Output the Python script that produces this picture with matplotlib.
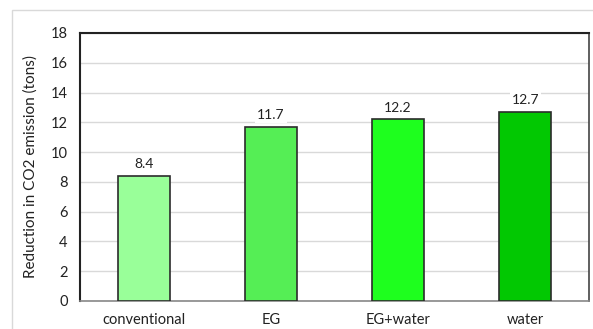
import matplotlib
matplotlib.use("Agg")
import matplotlib.pyplot as plt
from matplotlib.patches import Rectangle

categories = ["conventional", "EG", "EG+water", "water"]
values = [8.4, 11.7, 12.2, 12.7]
colors = ["#99FF99", "#55EE55", "#1EFF1E", "#02C802"]
yticks = [0, 2, 4, 6, 8, 10, 12, 14, 16, 18]

plt.rcParams["font.family"] = ["Lato", "DejaVu Sans"]

fig = plt.figure(figsize=(5.93, 3.29), dpi=100)
fig.patches.append(Rectangle((12 / 593, -0.1), 1.2, 1.0 - 9.5 / 329 + 0.1,
                             transform=fig.transFigure, fill=False,
                             edgecolor="#D9D9D9", linewidth=1.0))

ax = fig.add_axes([80 / 593, 1 - 301 / 329, 509 / 593, 268 / 329])
x = range(len(categories))
bars = ax.bar(x, values, width=0.41, color=colors, edgecolor="#2b2b2b",
              linewidth=1.2, zorder=3)

for b, v in zip(bars, values):
    ax.annotate(f"{v}", (b.get_x() + b.get_width() / 2, v), xytext=(0, 4),
                textcoords="offset points", ha="center", va="bottom",
                fontsize=10, color="#222222", zorder=4,
                bbox=dict(facecolor="white", edgecolor="none", pad=1.5))

ax.set_xlim(-0.5, 3.5)
ax.set_ylim(0, 18)
ax.set_yticks(yticks)
ax.set_xticks(list(x))
ax.set_xticklabels(categories)
ax.tick_params(axis="both", length=0, labelsize=10.5, colors="#222222")
ax.tick_params(axis="y", pad=9)
ax.tick_params(axis="x", pad=9)
ax.grid(axis="y", color="#D9D9D9", linewidth=1.0, zorder=0)
ax.set_axisbelow(True)

for side in ("left", "top"):
    ax.spines[side].set_color("#222222")
    ax.spines[side].set_linewidth(1.5)
ax.spines["right"].set_color("#444444")
ax.spines["right"].set_linewidth(1.2)
ax.spines["bottom"].set_color("#888888")
ax.spines["bottom"].set_linewidth(1.2)

ax.set_ylabel("Reduction in CO2 emission (tons)", fontsize=11,
              color="#222222", labelpad=9)

fig.savefig("out.png", dpi=100)
